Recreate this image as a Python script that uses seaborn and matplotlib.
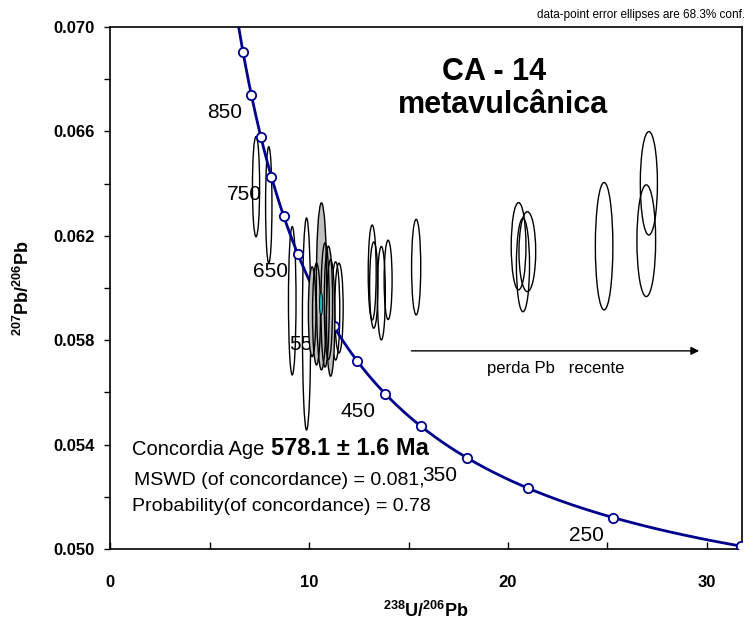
import numpy as np
import pandas as pd
import matplotlib
matplotlib.use("Agg")
import matplotlib.pyplot as plt
from matplotlib.patches import Ellipse
from matplotlib.ticker import FormatStrFormatter
import seaborn as sns

# decay constants (Steiger & Jager 1977), used to trace the concordia
L238 = 1.55125e-10
L235 = 9.8485e-10
U_RATIO = 137.88

# concordia tick marks (Ma) and the ones that get a label
tick_ages = [200, 250, 300, 350, 400, 450, 500, 550, 600, 650, 700, 750, 800, 850, 900, 950]
label_ages = [250, 350, 450, 550, 650, 750, 850]

# axis ticks
x_major = [0, 10, 20, 30]
x_minor = [5, 15, 25]
y_major = [0.050, 0.054, 0.058, 0.062, 0.066, 0.070]
y_minor = [0.052, 0.056, 0.060, 0.064, 0.068]

# spot analyses: 238U/206Pb, 207Pb/206Pb and ellipse half-axes
spot_x = [7.33, 7.97, 9.15, 9.87, 10.15, 10.37, 10.62, 10.80, 10.97, 11.08, 11.33, 11.50,
          13.17, 13.25, 13.63, 13.97, 15.38, 20.53, 20.75, 20.97, 24.83, 27.08, 26.95]
spot_y = [0.06388, 0.06318, 0.05951, 0.05862, 0.05909, 0.05900, 0.06006, 0.05935, 0.05943,
          0.05885, 0.05912, 0.05923, 0.06059, 0.06011, 0.05980, 0.06031, 0.06080, 0.06160,
          0.06088, 0.06139, 0.06160, 0.06401, 0.06181]
spot_sx = [0.18, 0.16, 0.19, 0.21, 0.19, 0.20, 0.26, 0.21, 0.21, 0.21, 0.21, 0.21,
           0.20, 0.21, 0.20, 0.20, 0.23, 0.37, 0.33, 0.42, 0.44, 0.43, 0.47]
spot_sy = [0.00192, 0.00223, 0.00284, 0.00406, 0.00172, 0.00195, 0.00320, 0.00238, 0.00217,
           0.00223, 0.00188, 0.00172, 0.00182, 0.00165, 0.00179, 0.00152, 0.00183, 0.00167,
           0.00179, 0.00153, 0.00244, 0.00198, 0.00214]
# grey = analyses used for the concordia age
spot_used = [False, False, False, False, True, True, True, True, True, True, False, False,
             False, False, False, False, False, False, False, False, False, False, False]

# concordia age ellipse
age_x, age_y, age_sx, age_sy = 10.6, 0.0594, 0.08, 0.00045

NAVY = "#00008c"


def tera_wasserburg(age_ma):
    t = np.asarray(age_ma, dtype=float) * 1e6
    x = 1.0 / np.expm1(L238 * t)
    y = np.expm1(L235 * t) / np.expm1(L238 * t) / U_RATIO
    return x, y


sns.set_style("ticks")
plt.rcParams["font.family"] = ["Liberation Sans", "DejaVu Sans"]
plt.rcParams["mathtext.fontset"] = "custom"
plt.rcParams["mathtext.bf"] = "Liberation Sans:bold"
plt.rcParams["mathtext.rm"] = "Liberation Sans:bold"
for key in ["text.color", "axes.labelcolor", "xtick.color", "ytick.color", "axes.edgecolor"]:
    plt.rcParams[key] = "black"

fig, ax = plt.subplots(figsize=(7.5, 6.26), dpi=100)
fig.subplots_adjust(left=0.147, right=0.989, top=0.957, bottom=0.123)

# concordia curve + age marks
cx, cy = tera_wasserburg(np.arange(150, 1101, 2))
curve = pd.DataFrame({"x": cx, "y": cy})
sns.lineplot(data=curve, x="x", y="y", sort=False, color=NAVY, lw=2.0, ax=ax, zorder=3)
mx, my = tera_wasserburg(tick_ages)
marks = pd.DataFrame({"x": mx, "y": my})
sns.scatterplot(data=marks, x="x", y="y", s=45, color="white", edgecolor=NAVY,
                linewidth=1.3, ax=ax, zorder=3.5)

lx, ly = tera_wasserburg(label_ages)
for a, x, y in zip(label_ages, lx, ly):
    ax.annotate(str(a), (x, y), xytext=(-27, -18), textcoords="offset pixels",
                ha="center", va="center", fontsize=15, zorder=1)

# error ellipses
for x, y, sx, sy, used in zip(spot_x, spot_y, spot_sx, spot_sy, spot_used):
    if used:
        ax.add_patch(Ellipse((x, y), 2 * sx, 2 * sy, facecolor="#c0c0c0",
                             edgecolor="none", zorder=4))
        ax.add_patch(Ellipse((x, y), 2 * sx, 2 * sy, facecolor="none",
                             edgecolor="black", lw=1.0, zorder=4.5))
    else:
        ax.add_patch(Ellipse((x, y), 2 * sx, 2 * sy, facecolor="none",
                             edgecolor="black", lw=1.0, zorder=2))
ax.add_patch(Ellipse((age_x, age_y), 2 * age_sx, 2 * age_sy, facecolor="#1fb5b0",
                     edgecolor="black", lw=0.6, zorder=5))

# axes
ax.set_xlim(0, 31.75)
ax.set_ylim(0.050, 0.070)
ax.set_xticks(x_major)
ax.set_xticks(x_minor, minor=True)
ax.set_yticks(y_major)
ax.set_yticks(y_minor, minor=True)
ax.yaxis.set_major_formatter(FormatStrFormatter("%.3f"))
ax.tick_params(axis="x", which="both", direction="in", length=5, width=1, pad=19)
ax.tick_params(axis="y", which="both", direction="out", length=4, width=1, pad=7)
for lab in ax.get_xticklabels() + ax.get_yticklabels():
    lab.set_fontsize(12)
    lab.set_fontweight("bold")
for sp in ax.spines.values():
    sp.set_linewidth(1.2)
    sp.set_color("black")

ax.set_xlabel(r"$^{238}$U/$^{206}$Pb", fontsize=13, fontweight="bold")
ax.set_ylabel(r"$^{207}$Pb/$^{206}$Pb", fontsize=13, fontweight="bold")
ax.xaxis.set_label_coords(0.5, -0.1)
ax.yaxis.set_label_coords(-0.122, 0.5)

# sample name
ax.text(19.3, 0.06797, "CA - 14", fontsize=22, fontweight="bold", ha="center", va="baseline")
ax.text(19.75, 0.06670, "metavulcânica", fontsize=22, fontweight="bold", ha="center", va="baseline")

# recent Pb loss arrow
ax.annotate("", xy=(29.75, 0.05759), xytext=(15.0, 0.05759),
            arrowprops=dict(arrowstyle="-|>", color="black", lw=1.0, mutation_scale=12))
ax.text(22.4, 0.0569, "perda Pb   recente", fontsize=12, ha="center", va="center")

# concordia age results
ax.text(1.1, 0.05383, "Concordia Age", fontsize=14.5, ha="left", va="center")
ax.text(8.1, 0.05386, "578.1 ± 1.6 Ma", fontsize=17, fontweight="bold", ha="left", va="center")
ax.text(1.2, 0.05264, "MSWD (of concordance) = 0.081,", fontsize=14, ha="left", va="center")
ax.text(1.1, 0.05161, "Probability(of concordance) = 0.78", fontsize=14, ha="left", va="center")

fig.text(0.993, 0.976, "data-point error ellipses are 68.3% conf.", fontsize=8.5,
         ha="right", va="center")

fig.savefig("out.png", dpi=100)
